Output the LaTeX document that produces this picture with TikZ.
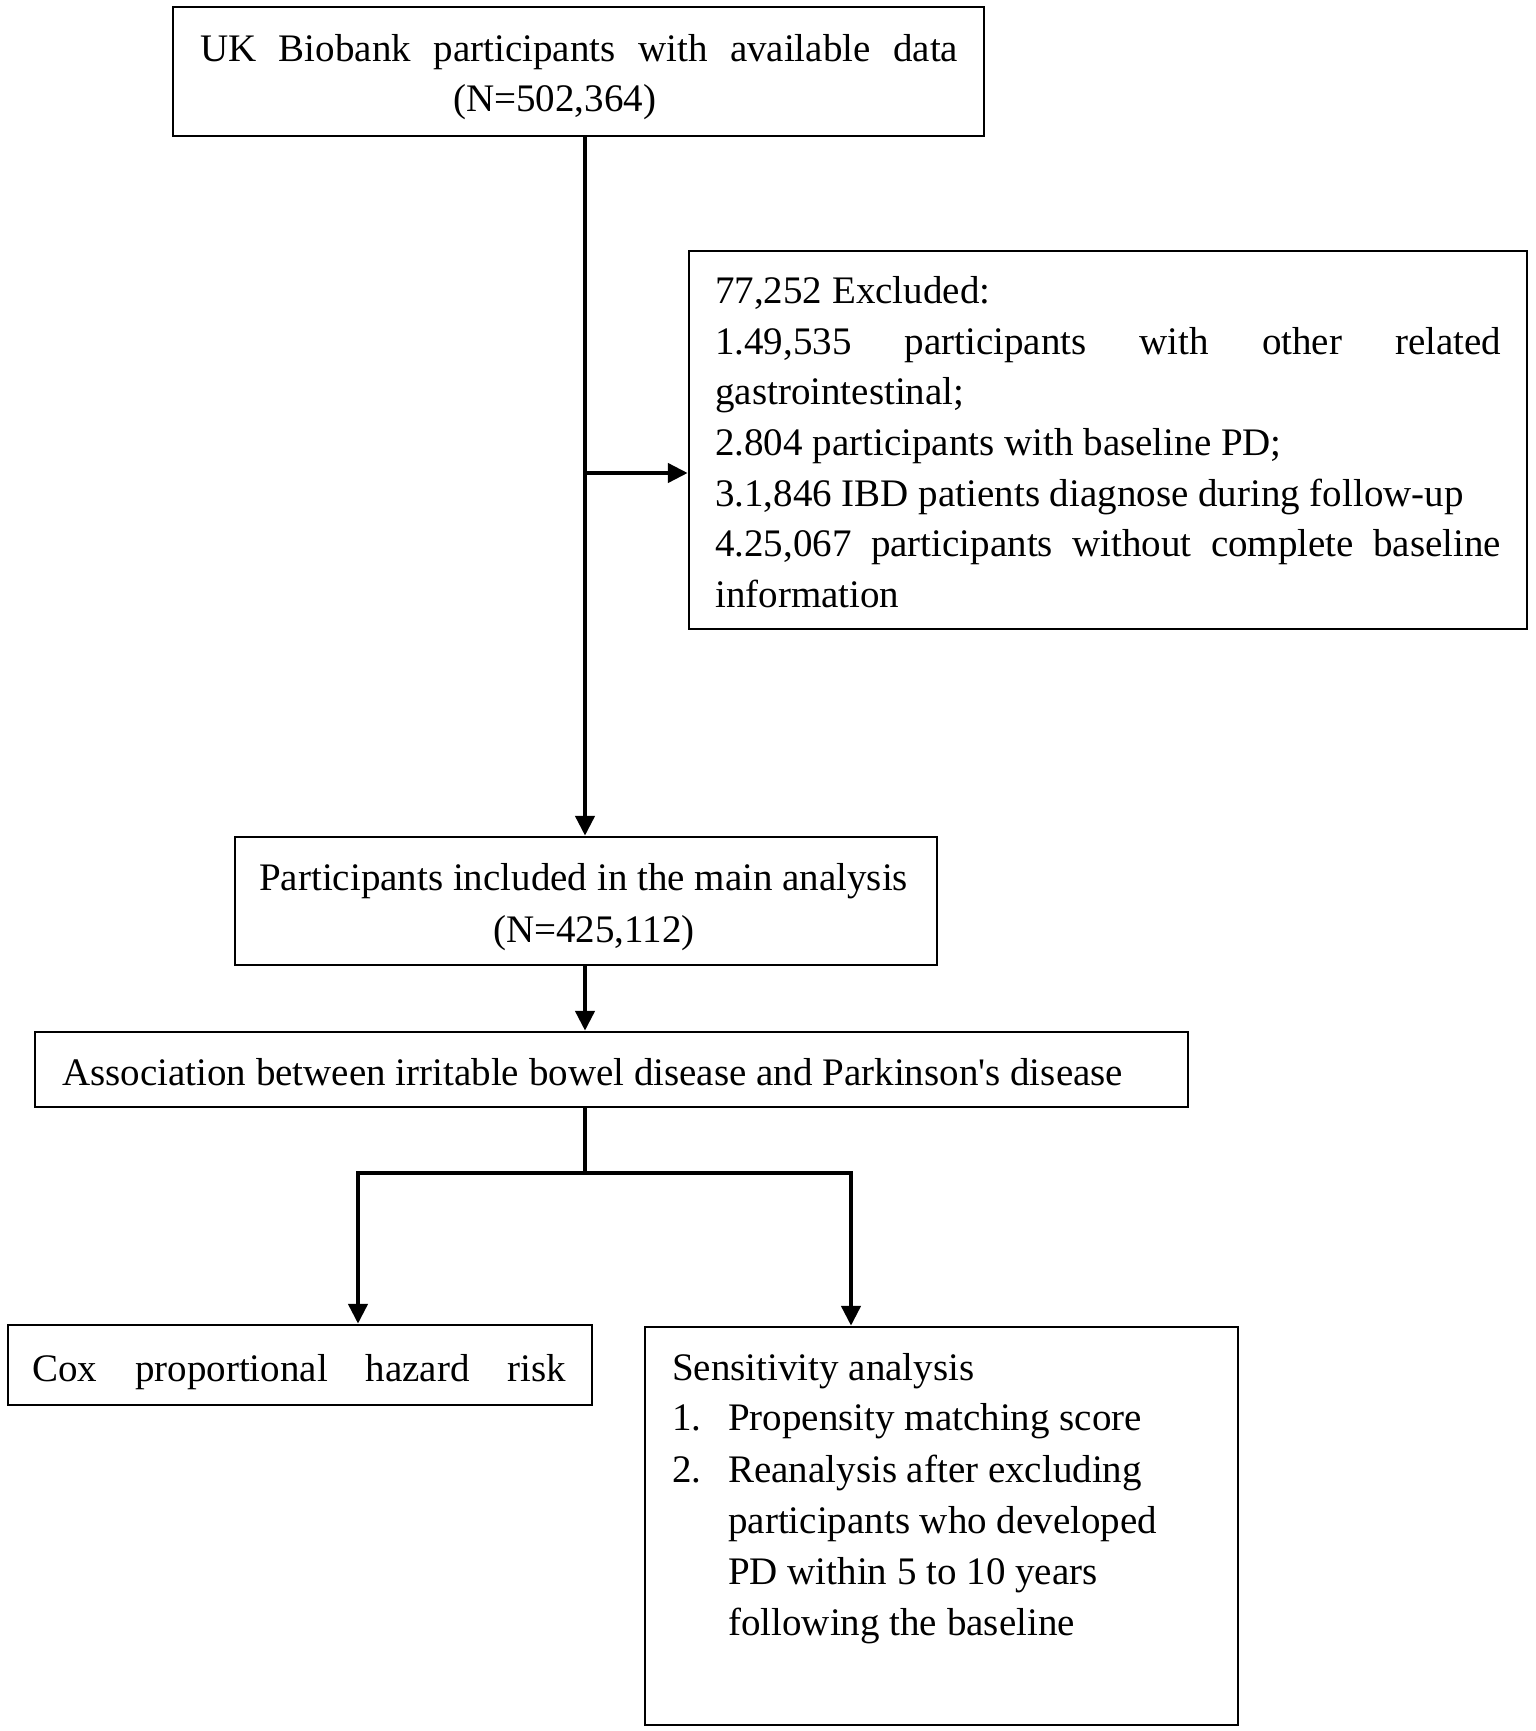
\documentclass[tikz,border=0pt]{standalone}
\usepackage{fontspec}
\setmainfont{Liberation Serif}
\usetikzlibrary{arrows.meta}
\newcommand\fsz{\fontsize{39}{50}\selectfont}
\begin{document}
\begin{tikzpicture}[x=1pt,y=-1pt,
  box/.style={draw, line width=2.5pt, inner sep=0pt, rectangle},
  txt/.style={anchor=base west, inner sep=0pt, font=\fsz},
  arr/.style={line width=4.5pt, -{Triangle[length=20pt,width=19pt]}},
  ln/.style={line width=4.5pt}]
\useasboundingbox (0,0) rectangle (1535,1731);
\fill[white] (0,0) rectangle (1535,1731);
% boxes
\node[box, minimum width=811pt, minimum height=129pt] (t) at (578.5,71.5) {};
\node[box, minimum width=838pt, minimum height=378pt] (e) at (1108,440) {};
\node[box, minimum width=702pt, minimum height=128pt] (m) at (586,901) {};
\node[box, minimum width=1153pt, minimum height=75pt] (a) at (611.5,1069.5) {};
\node[box, minimum width=584pt, minimum height=80pt] (c) at (300,1365) {};
\node[box, minimum width=593pt, minimum height=398pt] (s) at (941.5,1526) {};
% texts
\node[txt] (t1) at (200,62) {\makebox[758pt][s]{UK Biobank participants with available data}};
\node[txt] (t2) at (453,112) {(N=502,364)};
\node[txt] (e1) at (715,303) {77,252 Excluded:};
\node[txt] (e2) at (715,354) {\makebox[786pt][s]{1.49,535 participants with other related}};
\node[txt] (e3) at (715,404) {gastrointestinal;};
\node[txt] (e4) at (715,455) {2.804 participants with baseline PD;};
\node[txt] (e5) at (715,506) {3.1,846 IBD patients diagnose during follow-up};
\node[txt] (e6) at (715,556) {\makebox[786pt][s]{4.25,067 participants without complete baseline}};
\node[txt] (e7) at (715,607) {information};
\node[txt] (m1) at (259,890) {Participants included in the main analysis};
\node[txt] (m2) at (493,942) {(N=425,112)};
\node[txt] (a1) at (62,1085) {Association between irritable bowel disease and Parkinson\textquotesingle s disease};
\node[txt] (c1) at (32,1381) {\makebox[534pt][s]{Cox proportional hazard risk}};
\node[txt] (s1) at (672,1380) {Sensitivity analysis};
\node[txt] (s2n) at (672,1430) {1.};
\node[txt] (s2) at (728,1430) {Propensity matching score};
\node[txt] (s3n) at (672,1482) {2.};
\node[txt] (s3) at (728,1482) {Reanalysis after excluding};
\node[txt] (s4) at (728,1533) {participants who developed};
\node[txt] (s5) at (728,1584) {PD within 5 to 10 years};
\node[txt] (s6) at (728,1635) {following the baseline};
% connectors
\coordinate (br) at (585,473);
\coordinate (j) at (585,1173);
\coordinate (jl) at (358,1173);
\coordinate (jr) at (851,1173);
\draw[arr] (t.south -| br) -- (m.north -| br);
\draw[arr] (br) -- (br -| e.west);
\draw[arr] (m.south -| br) -- (a.north -| br);
\draw[ln] (a.south -| j) -- (j);
\draw[arr] (j) -| (c.north -| jl);
\draw[arr] (j) -| (s.north -| jr);
\end{tikzpicture}
\end{document}
